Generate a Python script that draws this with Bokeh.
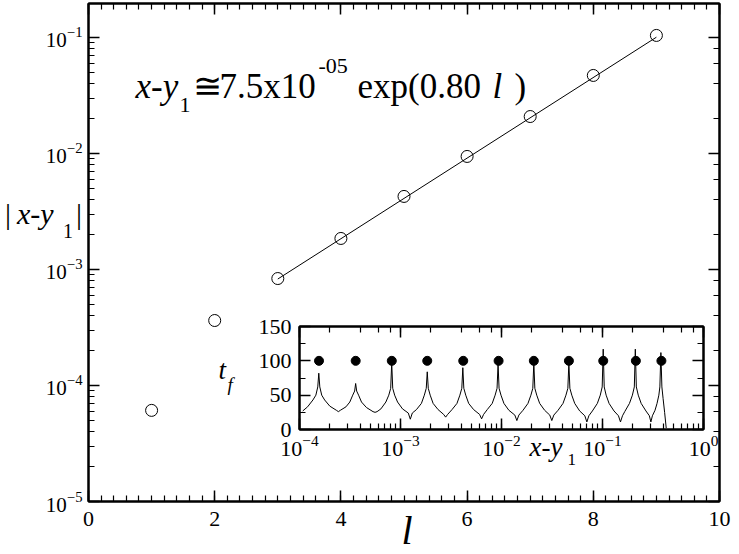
from bokeh.plotting import figure
from bokeh.models import (Label, LinearAxis, LogAxis, SingleIntervalTicker, LogTicker, Range1d,
                          CustomJSTickFormatter, Div)
from bokeh.layouts import column
from bokeh.embed import file_html
from bokeh.resources import INLINE

# ---------------- data ----------------
# main panel: |x - y1| versus l
main_l = [1, 2, 3, 4, 5, 6, 7, 8, 9]
main_y = [6.1e-5, 3.63e-4, 8.35e-4, 1.85e-3, 4.26e-3, 9.42e-3, 2.08e-2, 4.7e-2, 0.104]
# fitted line 7.5e-5 * exp(0.80 l), endpoints
fit_l = [3, 9]
fit_y = [8.27e-4, 0.1004]

# inset: t_f versus x - y1
inset_pts_x = [1.56e-4, 3.6e-4, 8.2e-4, 1.84e-3, 4.18e-3, 9.36e-3, 2.09e-2, 4.65e-2, 0.1017, 0.214, 0.383]
inset_pts_y = [100, 100, 100, 100, 100, 100, 100, 100, 100, 100, 100]
# curve: log10(x - y1) and t_f
tf_log_x = [-3.968, -3.92, -3.867, -3.838, -3.819, -3.809, -3.799, -3.780, -3.751, -3.70, -3.635, -3.615,
            -3.595, -3.54, -3.502, -3.473, -3.454, -3.444, -3.434, -3.415, -3.386, -3.337, -3.272, -3.252,
            -3.232, -3.194, -3.145, -3.116, -3.097, -3.087, -3.077, -3.058, -3.029, -2.980, -2.923, -2.903,
            -2.883, -2.842, -2.793, -2.764, -2.745, -2.735, -2.725, -2.706, -2.677, -2.628, -2.573, -2.553,
            -2.533, -2.49, -2.441, -2.412, -2.393, -2.383, -2.373, -2.354, -2.325, -2.276, -2.217, -2.197,
            -2.177, -2.141, -2.092, -2.063, -2.044, -2.034, -2.024, -2.005, -1.976, -1.927, -1.868, -1.848,
            -1.828, -1.787, -1.738, -1.709, -1.690, -1.680, -1.670, -1.651, -1.622, -1.573, -1.522, -1.502,
            -1.482, -1.44, -1.391, -1.362, -1.343, -1.333, -1.323, -1.304, -1.275, -1.226, -1.175, -1.155,
            -1.135, -1.10, -1.051, -1.022, -1.003, -0.993, -0.983, -0.964, -0.935, -0.886, -0.842, -0.822,
            -0.802, -0.78, -0.733, -0.704, -0.685, -0.675, -0.665, -0.646, -0.617, -0.57, -0.536, -0.521,
            -0.506, -0.48, -0.46, -0.442, -0.432, -0.422, -0.412, -0.40, -0.385, -0.369]
tf_y = [27, 33, 43, 50, 62, 82, 62, 50, 43, 34, 28, 26,
        28, 33, 40, 50, 56, 67, 56, 50, 40, 32, 26, 25,
        26, 30, 40, 50, 60, 97, 60, 50, 40, 30, 24, 15,
        24, 29, 38, 50, 60, 84, 60, 50, 38, 29, 22, 18,
        22, 29, 38, 50, 60, 90, 60, 50, 38, 29, 22, 15.5,
        22, 29, 38, 50, 60, 95, 60, 50, 38, 28, 21, 13,
        21, 28, 38, 50, 60, 97, 60, 50, 38, 28, 21, 13,
        21, 28, 38, 50, 60, 97, 60, 50, 38, 27, 20, 11,
        20, 27, 38, 50, 62, 117, 62, 50, 38, 27, 20, 11,
        20, 26, 38, 50, 62, 117, 62, 50, 38, 27, 20, 11,
        20, 28, 38, 50, 62, 112, 62, 45, 25, 2]
tf_x = [10 ** v for v in tf_log_x]

SERIF = "Liberation Serif"

# ---------------- main figure ----------------
p = figure(width=739, height=554, output_backend="svg", toolbar_location=None,
           x_range=Range1d(0, 10), y_range=Range1d(1e-5, 0.196), y_axis_type="log",
           min_border_left=88, min_border_right=14, min_border_top=3, min_border_bottom=53)
p.grid.visible = False
p.outline_line_color = "black"
p.outline_line_width = 2
p.background_fill_color = "white"
p.border_fill_color = "white"


def style_axis(ax, labels=True, size="21px", standoff=6):
    ax.axis_line_color = "black"
    ax.axis_line_width = 2
    ax.major_tick_line_color = "black"
    ax.minor_tick_line_color = "black"
    ax.major_tick_line_width = 1.5
    ax.minor_tick_line_width = 1.2
    ax.major_tick_in = 11
    ax.major_tick_out = 0
    ax.minor_tick_in = 6
    ax.minor_tick_out = 0
    if labels:
        ax.major_label_text_font = SERIF
        ax.major_label_text_font_size = size
        ax.major_label_text_color = "black"
        ax.major_label_standoff = standoff
    else:
        ax.formatter = CustomJSTickFormatter(code="return ''")
        ax.major_label_text_font_size = "1px"
        ax.major_label_text_alpha = 0
        ax.major_label_standoff = 0
        ax.axis_label_standoff = 0


p.xaxis.ticker = SingleIntervalTicker(interval=2, num_minor_ticks=10)
style_axis(p.xaxis[0], size="22px", standoff=10)
style_axis(p.yaxis[0], size="21px", standoff=6)
top_ax = LinearAxis(ticker=SingleIntervalTicker(interval=2, num_minor_ticks=10))
style_axis(top_ax, labels=False)
p.add_layout(top_ax, "above")
right_ax = LinearAxis(ticker=LogTicker())
style_axis(right_ax, labels=False)
p.add_layout(right_ax, "right")

p.line(fit_l, fit_y, line_color="black", line_width=1)
p.scatter(main_l, main_y, size=12, marker="circle", fill_alpha=0, line_color="black", line_width=1)

# ---------------- inset ----------------
inset = figure(width=512, height=162, output_backend="svg", toolbar_location=None,
               x_range=Range1d(1e-4, 1), y_range=Range1d(0, 150), x_axis_type="log",
               min_border_left=80, min_border_right=20, min_border_top=14, min_border_bottom=45)
inset.grid.visible = False
inset.outline_line_color = "black"
inset.outline_line_width = 2
inset.background_fill_color = "white"
inset.border_fill_alpha = 0
inset.yaxis.ticker = SingleIntervalTicker(interval=50, num_minor_ticks=2)
style_axis(inset.xaxis[0], size="22px", standoff=6)
style_axis(inset.yaxis[0], size="22px", standoff=8)
itop = LogAxis(ticker=LogTicker())
style_axis(itop, labels=False)
inset.add_layout(itop, "above")
iright = LinearAxis(ticker=SingleIntervalTicker(interval=50, num_minor_ticks=2))
style_axis(iright, labels=False)
inset.add_layout(iright, "right")

inset.line(tf_x, tf_y, line_color="black", line_width=1)
inset.scatter(inset_pts_x, inset_pts_y, size=9, marker="circle", fill_color="black", line_color="black")
inset.styles = {"position": "absolute", "left": "211px", "top": "312px", "z-index": "5"}


# ---------------- transparent text layer ----------------
txt = figure(frame_width=739, frame_height=554, output_backend="svg", toolbar_location=None,
             x_range=Range1d(0, 1), y_range=Range1d(0, 1),
             x_axis_location=None, y_axis_location=None,
             min_border_left=0, min_border_right=0, min_border_top=0, min_border_bottom=0)
txt.grid.visible = False
txt.outline_line_color = None
txt.background_fill_alpha = 0
txt.border_fill_alpha = 0
txt.styles = {"position": "absolute", "left": "0px", "top": "0px", "z-index": "10"}

DY = 9  # Label baseline correction


def lab(x, y, text, size, italic=False):
    # x, y: page pixels from the top-left corner (text baseline)
    txt.add_layout(Label(x=x, y=y - DY, x_units="canvas", y_units="canvas", text=text,
                         text_font=SERIF, text_font_size=size,
                         text_font_style="italic" if italic else "normal",
                         text_color="black", text_align="left", text_baseline="alphabetic"))


# formula
lab(135, 95, "x-y", "35px", True)
lab(179, 113, "1", "22px")
lab(192, 95, "\u2245", "35px")
lab(219, 95, "7.5x10", "35px")
lab(318, 74, "-05", "22px")
lab(357, 95, "exp(0.80", "35px")
lab(492, 95, "l", "35px", True)
lab(514, 95, ")", "35px")

# main x axis label l
lab(401, 539, "l", "40px", True)

# inset axis labels
lab(218, 378, "t", "27px", True)
lab(227, 393, "f", "19px", True)
lab(529, 455, "x-y", "27px", True)
lab(567, 468, "1", "17px")

# main y axis label |x-y1| as an HTML block (left of the frame)
F = "font-family:'Liberation Serif',serif;color:black;position:absolute;white-space:nowrap;line-height:normal;"
ylab_html = (
    '<div style="position:relative;width:88px;height:70px;">'
    f'<span style="{F}left:0px;top:8px;font-size:30px;">|</span>'
    f'<span style="{F}left:12px;top:8px;font-size:30px;font-style:italic;">x-y</span>'
    f'<span style="{F}left:58px;top:31px;font-size:20px;">1</span>'
    f'<span style="{F}left:71px;top:8px;font-size:30px;">|</span>'
    '</div>'
)
ylab = Div(text=ylab_html, width=88, height=70,
           styles={"position": "absolute", "left": "0px", "top": "184px", "z-index": "11"})

root = column(p, inset, txt, ylab)
open("out.html", "w").write(file_html(root, INLINE))
